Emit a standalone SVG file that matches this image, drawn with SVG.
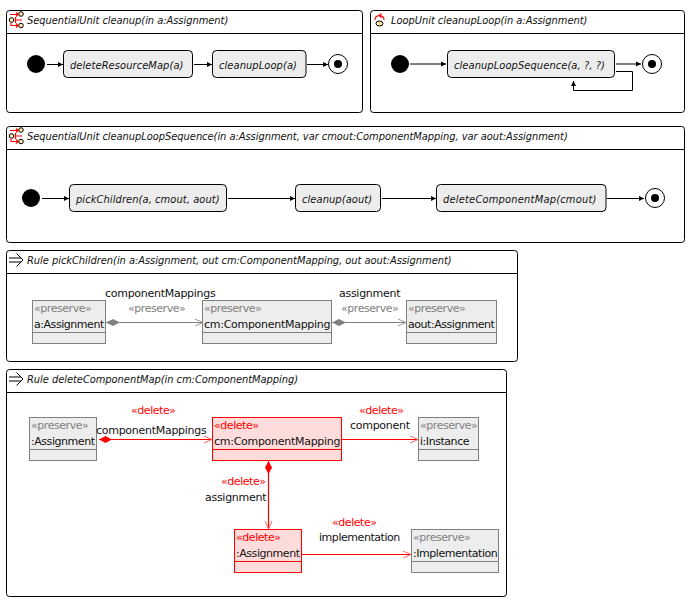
<svg xmlns="http://www.w3.org/2000/svg" width="695" height="603" viewBox="0 0 695 603">
<defs>
<marker id="ah" markerWidth="6" markerHeight="6" refX="5" refY="3" orient="auto" markerUnits="userSpaceOnUse"><path d="M0,0.5L5,3L0,5.5Z" fill="#000"/></marker>
<marker id="og" markerWidth="10" markerHeight="10" refX="9" refY="5" orient="auto" markerUnits="userSpaceOnUse"><path d="M1,1.5L9,5L1,8.5" fill="none" stroke="#999" stroke-width="1"/></marker>
<marker id="or" markerWidth="10" markerHeight="10" refX="9" refY="5" orient="auto" markerUnits="userSpaceOnUse"><path d="M1,1.5L9,5L1,8.5" fill="none" stroke="#f66" stroke-width="1"/></marker>
<marker id="dg" markerWidth="15" markerHeight="8" refX="0" refY="4" orient="auto" markerUnits="userSpaceOnUse"><path d="M0,4L7,0.5L14,4L7,7.500Z" fill="#808080"/></marker>
<marker id="dr" markerWidth="15" markerHeight="8" refX="0" refY="4" orient="auto" markerUnits="userSpaceOnUse"><path d="M0,4L6.500,0.500L13,4L6.500,7.500Z" fill="#f00"/></marker>
</defs>
<style>
text{font-family:"DejaVu Sans",sans-serif;font-size:11px;fill:#111;letter-spacing:-.45px}
.w{letter-spacing:-.28px}
.i{font-style:italic;font-family:"DejaVu Sans Condensed","DejaVu Sans",sans-serif;font-stretch:condensed;letter-spacing:.08px}
.t{letter-spacing:-.04px}
.s{fill:#808080}
.r{fill:#f00}
.frame{fill:#fff;stroke:#000;stroke-width:1}
.hd{stroke:#000;stroke-width:1;fill:none}
.st{fill:#ededed;stroke:#000;stroke-width:1}
.b{fill:#ededed;stroke:#808080;stroke-width:1}
.d{fill:#ffdcdc;stroke:#f00;stroke-width:1}
.e{fill:none;stroke:#000;stroke-width:1;marker-end:url(#ah)}
.eg{fill:none;stroke:#808080;stroke-width:1.200;marker-start:url(#dg);marker-end:url(#og)}
.er{fill:none;stroke:#f00;stroke-width:1.200;marker-end:url(#or)}
.erd{fill:none;stroke:#f00;stroke-width:1.200;marker-start:url(#dr);marker-end:url(#or)}
.ini{fill:#000}
.ic{fill:none;stroke:#f00;stroke-width:1.200}
.iy{fill:#ffe9a8;stroke:#000;stroke-width:1}
</style>

<g id="frame-cleanup">
<rect class="frame" x="6.500" y="10.500" width="356" height="102" rx="3"/>
<path class="hd" d="M6.500 33.500H362.500"/>
<g><path class="ic" d="M10 14.500H18M16 12.500L18 14.500L16 16.500M22 20H15M15.500 17V23M11 23V25.500H18M16 23.500L18 25.500L16 27.500"/><circle class="iy" cx="21" cy="14" r="2.300"/><circle class="iy" cx="21" cy="25.500" r="2.300"/><circle class="iy" cx="11.500" cy="20" r="2.300"/></g>
<text class="i t" x="27" y="24">SequentialUnit cleanup(in a:Assignment)</text>
</g>
<g id="frame-cleanupLoop">
<rect class="frame" x="370.500" y="10.500" width="314" height="102" rx="3"/>
<path class="hd" d="M370.500 33.500H684.500"/>
<path class="ic" d="M375 20A4.500 4.500 0 0 1 379 15.500H380A4.500 4.500 0 0 1 384 20M381.500 13.500L379 15.500L381.500 17.500"/>
<ellipse class="iy" cx="379.500" cy="23.500" rx="3.500" ry="2.500"/>
<text class="i t" x="391" y="24">LoopUnit cleanupLoop(in a:Assignment)</text>
</g>
<g id="frame-cleanupLoopSequence">
<rect class="frame" x="6.500" y="126.500" width="678" height="116" rx="3"/>
<path class="hd" d="M6.500 149.500H684.500"/>
<g><path class="ic" d="M10 130.500H18M16 128.500L18 130.500L16 132.500M22 136H15M15.500 133V139M11 139V141.500H18M16 139.500L18 141.500L16 143.500"/><circle class="iy" cx="21" cy="130" r="2.300"/><circle class="iy" cx="21" cy="141.500" r="2.300"/><circle class="iy" cx="11.500" cy="136" r="2.300"/></g>
<text class="i t" x="27" y="140">SequentialUnit cleanupLoopSequence(in a:Assignment, var cmout:ComponentMapping, var aout:Assignment)</text>
</g>
<g id="frame-pickChildren">
<rect class="frame" x="6.500" y="250.500" width="511" height="111" rx="3"/>
<path class="hd" d="M6.500 273.500H517.500"/>
<path class="hd" d="M9 258H21M9 262H21M16.500 253.500L23 260L16.500 266.500"/>
<text class="i t" x="27" y="264">Rule pickChildren(in a:Assignment, out cm:ComponentMapping, out aout:Assignment)</text>
</g>
<g id="frame-deleteComponentMap">
<rect class="frame" x="6.500" y="369.500" width="500" height="227" rx="3"/>
<path class="hd" d="M6.500 392.500H506.500"/>
<path class="hd" d="M9 377H21M9 381H21M16.500 372.500L23 379L16.500 385.500"/>
<text class="i t" x="27" y="383">Rule deleteComponentMap(in cm:ComponentMapping)</text>
</g>

<g id="connectors">
<path class="e" d="M47 64.500H63"/>
<path class="e" d="M194 64.500H212"/>
<path class="e" d="M307 64.500H328"/>
<path class="e" d="M410 64H446"/>
<path class="e" d="M616 64H641"/>
<path class="e" d="M616 71.500H632.500V90.500H573.500V81"/>
<path class="e" d="M42 198.500H69"/>
<path class="e" d="M228 198.500H295"/>
<path class="e" d="M382 198.500H436"/>
<path class="e" d="M607 198.500H644"/>
<path class="eg" d="M106 322.500H203"/>
<path class="eg" d="M332 322.500H406"/>
<path class="erd" d="M99 439.500H212"/>
<path class="er" d="M342 439.500H418"/>
<path class="erd" d="M268.500 461V529"/>
<path class="er" d="M302 554.500H411"/>
</g>

<g id="cleanup-init"><circle class="ini" cx="36" cy="64" r="9"/></g>
<g id="deleteResourceMap"><rect class="st" x="63.500" y="50.500" width="129" height="27" rx="4"/><text class="i" x="70" y="69">deleteResourceMap(a)</text></g>
<g id="cleanupLoop-call"><rect class="st" x="212.500" y="50.500" width="93.500" height="27" rx="4"/><text class="i" x="219" y="69">cleanupLoop(a)</text></g>
<g id="cleanup-final"><circle cx="338" cy="64" r="9.500" fill="#fff" stroke="#000"/><circle class="ini" cx="338" cy="64" r="4"/></g>

<g id="loop-init"><circle class="ini" cx="400" cy="64" r="9"/></g>
<g id="cleanupLoopSequence-call"><rect class="st" x="447.500" y="50.500" width="167" height="27" rx="4"/><text class="i" x="454" y="69">cleanupLoopSequence(a, ?, ?)</text></g>
<g id="loop-final"><circle cx="652" cy="64" r="9.500" fill="#fff" stroke="#000"/><circle class="ini" cx="652" cy="64" r="4"/></g>

<g id="seq-init"><circle class="ini" cx="31" cy="198" r="9"/></g>
<g id="pickChildren-call"><rect class="st" x="69.500" y="184.500" width="157" height="27" rx="4"/><text class="i" x="76" y="203">pickChildren(a, cmout, aout)</text></g>
<g id="cleanup-call"><rect class="st" x="295.500" y="184.500" width="85" height="27" rx="4"/><text class="i" x="302" y="203">cleanup(aout)</text></g>
<g id="deleteComponentMap-call"><rect class="st" x="436.500" y="184.500" width="169.500" height="27" rx="4"/><text class="i" x="443" y="203" style="letter-spacing:.2px">deleteComponentMap(cmout)</text></g>
<g id="seq-final"><circle cx="655" cy="198" r="9.500" fill="#fff" stroke="#000"/><circle class="ini" cx="655" cy="198" r="4"/></g>

<g id="p-assignment"><rect class="b" x="32.500" y="300.500" width="73" height="43"/><path class="b" d="M32.500 332.500H105.500"/><text class="s" x="34" y="312">«preserve»</text><text x="34" y="328">a:Assignment</text></g>
<g id="p-cm"><rect class="b" x="202.500" y="300.500" width="129" height="43"/><path class="b" d="M202.500 332.500H331.500"/><text class="s" x="204" y="312">«preserve»</text><text class="w" x="204" y="328">cm:ComponentMapping</text></g>
<g id="p-aout"><rect class="b" x="406.500" y="300.500" width="90" height="43"/><path class="b" d="M406.500 332.500H496.500"/><text class="s" x="408" y="312">«preserve»</text><text x="408" y="328">aout:Assignment</text></g>
<text class="w" x="105" y="297">componentMappings</text>
<text class="s" x="128" y="312">«preserve»</text>
<text class="w" x="339" y="297">assignment</text>
<text class="s" x="341" y="312">«preserve»</text>

<g id="d-assignment"><rect class="b" x="29.500" y="417.500" width="67" height="43"/><path class="b" d="M29.500 449.500H96.500"/><text class="s" x="31" y="429">«preserve»</text><text x="31" y="445">:Assignment</text></g>
<g id="d-cm"><rect class="d" x="212.500" y="417.500" width="129" height="43"/><path class="d" d="M212.500 449.500H341.500"/><text class="r" x="214" y="429">«delete»</text><text class="w" x="214" y="445">cm:ComponentMapping</text></g>
<g id="d-instance"><rect class="b" x="418.500" y="417.500" width="60" height="43"/><path class="b" d="M418.500 449.500H478.500"/><text class="s" x="420" y="429">«preserve»</text><text x="420" y="445">i:Instance</text></g>
<g id="d-assignment2"><rect class="d" x="234.500" y="529.500" width="67" height="43"/><path class="d" d="M234.500 561.500H301.500"/><text class="r" x="236" y="541">«delete»</text><text x="236" y="557">:Assignment</text></g>
<g id="d-implementation"><rect class="b" x="411.500" y="529.500" width="87" height="43"/><path class="b" d="M411.500 561.500H498.500"/><text class="s" x="413" y="541">«preserve»</text><text x="413" y="557">:Implementation</text></g>
<text class="r" x="131" y="414">«delete»</text>
<text class="w" x="96" y="434">componentMappings</text>
<text class="r" x="359" y="414">«delete»</text>
<text class="w" x="350" y="429">component</text>
<text class="r" x="221" y="485">«delete»</text>
<text class="w" x="205" y="501">assignment</text>
<text class="r" x="332" y="526">«delete»</text>
<text x="319" y="541">implementation</text>
</svg>
